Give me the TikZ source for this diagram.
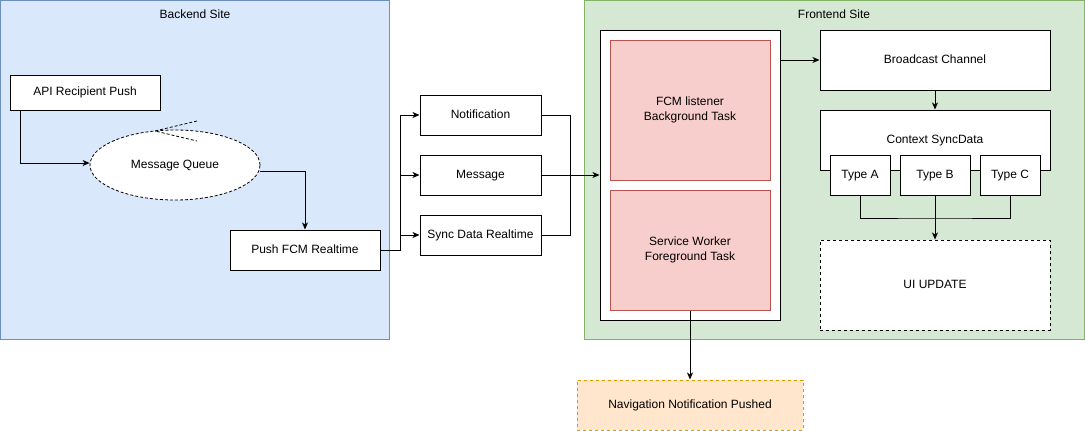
\documentclass[tikz,border=0pt]{standalone}
\usepackage{fontspec}
\setmainfont{Liberation Sans}
\usetikzlibrary{shapes.geometric,arrows.meta}
\definecolor{bfill}{HTML}{DAE8FC}\definecolor{bstroke}{HTML}{6C8EBF}
\definecolor{gfill}{HTML}{D5E8D4}\definecolor{gstroke}{HTML}{82B366}
\definecolor{rfill}{HTML}{F8CECC}\definecolor{rstroke}{HTML}{B85450}
\definecolor{ofill}{HTML}{FFE6CC}\definecolor{ostroke}{HTML}{D79B00}
\tikzset{
  every node/.style={font=\fontsize{12}{14.5}\selectfont, inner sep=0pt, align=center},
  sl/.style={text height=9pt, text depth=2.5pt},
  box/.style={draw=black, fill=white, line width=1pt, rectangle, sl},
  dbox/.style={box, dash pattern=on 3pt off 3pt},
  pinkbox/.style={rectangle, draw=rstroke, fill=rfill, line width=1pt, minimum width=160pt},
  container/.style={rectangle, line width=1pt},
  arr/.style={line width=1pt, -{Stealth[length=7pt,width=6pt,inset=2pt]}},
  ln/.style={line width=1pt},
}
\begin{document}
\begin{tikzpicture}[x=1pt,y=-1pt]
\useasboundingbox (0,0) rectangle (1085,431);
% containers
\node[container, draw=bstroke, fill=bfill, minimum width=389pt, minimum height=339pt] (backend) at (195,170) {};
\node[sl] (backendlbl) at (195,15) {Backend Site};
\node[container, draw=gstroke, fill=gfill, minimum width=500pt, minimum height=339pt] (frontend) at (834.5,170) {};
\node[sl] (frontendlbl) at (834,15) {Frontend Site};
% backend
\node[box, minimum width=150pt, minimum height=35pt] (api) at (85,92.5) {API Recipient Push};
\node[ellipse, draw=black, fill=white, line width=0.8pt, dash pattern=on 3pt off 2pt, minimum width=170pt, minimum height=70pt, sl] (mq) at (175,165) {Message Queue};
\coordinate (mqv) at (155,131);
\coordinate (mqa) at (197,121);
\coordinate (mqb) at (197,141);
\draw[line width=0.8pt, dash pattern=on 3pt off 2pt] (mqa) -- (mqv) -- (mqb);
\node[box, minimum width=150pt, minimum height=40pt] (push) at (305,250) {Push FCM Realtime};
% middle
\node[box, minimum width=121pt, minimum height=40pt] (notif) at (480.5,115) {Notification};
\node[box, minimum width=121pt, minimum height=40pt] (msg) at (480.5,175) {Message};
\node[box, minimum width=121pt, minimum height=40pt] (sync) at (480.5,235) {Sync Data Realtime};
% frontend
\node[box, minimum width=180pt, minimum height=290pt] (outer) at (690,175) {};
\node[pinkbox, minimum height=140pt] (fcm) at (690,110) {FCM listener\\Background Task};
\node[pinkbox, minimum height=120pt] (sw) at (690,250) {Service Worker\\Foreground Task};
\node[box, minimum width=230pt, minimum height=60pt] (bc) at (935,60) {Broadcast Channel};
\node[box, minimum width=230pt, minimum height=60pt] (ctx) at (935,140) {};
\node[sl] (ctxlbl) at (935,140) {Context SyncData};
\node[box, minimum width=60pt, minimum height=40pt] (ta) at (860,175) {Type A};
\node[box, minimum width=70pt, minimum height=40pt] (tb) at (935,175) {Type B};
\node[box, minimum width=60pt, minimum height=40pt] (tc) at (1010,175) {Type C};
\node[dbox, minimum width=230pt, minimum height=90pt] (ui) at (935,285) {UI UPDATE};
\node[rectangle, draw=ostroke, fill=ofill, line width=1pt, dash pattern=on 3pt off 3pt, minimum width=226pt, minimum height=50pt, sl] (nav) at (690,405) {Navigation Notification Pushed};
% connectors
\draw[arr] ([xshift=-65pt]api.south) |- ([yshift=2pt]mq.west);
\draw[arr] ([yshift=-6pt]mq.east) -| (push.north);
\coordinate (j1) at (400.5,250);
\draw[ln] (push.east) -- (j1);
\draw[arr] (j1) |- (notif.west);
\draw[arr] (j1) |- (msg.west);
\draw[arr] (j1) |- (sync.west);
\coordinate (j2) at (570,175);
\draw[ln] (notif.east) -| (j2);
\draw[ln] (sync.east) -| (j2);
\draw[arr] (msg.east) -- (outer.west);
\draw[arr] (outer.east |- bc.west) -- (bc.west);
\draw[arr] (bc.south) -- (ctx.north);
\coordinate (j3) at (935,218);
\draw[ln] (ta.south) |- (j3) -| (tc.south);
\draw[arr] (tb.south) -- (ui.north);
\draw[arr] (sw.south) -- (nav.north);
\end{tikzpicture}
\end{document}
